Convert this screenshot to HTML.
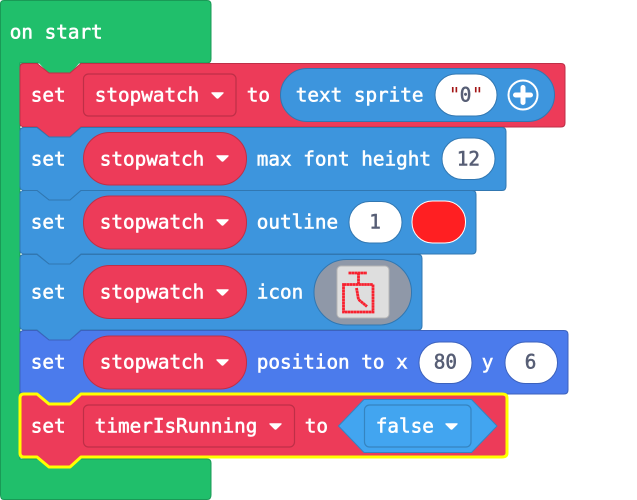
<!DOCTYPE html>
<html><head><meta charset="utf-8"><style>
html,body{margin:0;padding:0;background:#fff;width:637px;height:500px;overflow:hidden}
svg{display:block}
text{font-family:"DejaVu Sans Mono","Liberation Mono",monospace;font-size:19.3px;fill:#fff;dominant-baseline:central;stroke:#fff;stroke-width:.55;transform:translate(-.2px,.2px)}
.d{fill:#575e75;stroke:#575e75}
</style></head><body>
<svg width="637" height="500" viewBox="0 0 637 500" xmlns="http://www.w3.org/2000/svg">
<defs>
<path id="c" d="M1.200 .3H11.800Q13.300 .3 12.400 1.500L7.600 6.300Q6.500 7.300 5.400 6.300L.6 1.500Q-.3 .3 1.200 .3Z" fill="#fff"/>
</defs>
<path d="M4 .5H207Q211 .5 211 4.500V59Q211 63 207 63H20V459H207Q211 459 211 463V495Q211 499.500 207 499.500H4Q.5 499.500 .5 495V4Q.5 .5 4 .5Z" fill="#20bf6b" stroke="#1a9956"/>
<path d="M36 60L49 74H70L82 60Z" fill="#20bf6b"/>

<path d="M24 63.500H37L49 73H70L81 63.500H561Q565 63.500 565 67.500V123Q565 127 561 127H81L70 137H49L37 127H24Q20 127 20 123V67.500Q20 63.500 24 63.500Z" fill="#ed3b59" stroke="#be2f47"/>
<path d="M24 127.500H37L49 137H70L81 127.500H502Q506 127.500 506 131.500V186Q506 190.500 502 190.500H81L70 200H49L37 190.500H24Q20 190.500 20 186V131.500Q20 127.500 24 127.500Z" fill="#3d95dd" stroke="#3177b1"/>
<path d="M24 190.500H37L49 200H70L81 190.500H472Q476 190.500 476 194.500V250Q476 254 472 254H81L70 264H49L37 254H24Q20 254 20 250V194.500Q20 190.500 24 190.500Z" fill="#3d95dd" stroke="#3177b1"/>
<path d="M24 254.500H37L49 264H70L81 254.500H418Q422 254.500 422 258.500V326Q422 330 418 330H81L70 340H49L37 330H24Q20 330 20 326V258.500Q20 254.500 24 254.500Z" fill="#3d95dd" stroke="#3177b1"/>
<path d="M24 330.500H37L49 340H70L81 330.500H564Q568 330.500 568 334.500V390Q568 394 564 394H81L70 404H49L37 394H24Q20 394 20 390V334.500Q20 330.500 24 330.500Z" fill="#4b7bec" stroke="#3c62bd"/>
<path d="M24 394H37L49 404H70L81 394H502Q507 394 507 398V453Q507 457 502 457H81L70 467H49L37 457H24Q20 457 20 453V398Q20 394 24 394Z" fill="#ed3b59" stroke="#ffff00" stroke-width="3" stroke-linejoin="round"/>

<g fill="#fff"><circle cx="21" cy="127" r=".8"/><circle cx="21" cy="190.500" r=".8"/><circle cx="21" cy="254" r=".8"/><circle cx="21" cy="330" r=".8"/></g>

<text x="10" y="32">on start</text>

<!-- row 1 -->
<text x="31" y="95">set</text>
<rect x="83.500" y="74" width="152.500" height="42" rx="5" fill="#ed3b59" stroke="#be2f47" stroke-width="1.200"/>
<text x="95" y="95">stopwatch</text>
<use href="#c" x="211" y="92"/>
<text x="247" y="95">to</text>
<rect x="280.500" y="68.500" width="274" height="53" rx="26.500" fill="#3d95dd" stroke="#3177b1"/>
<text x="296" y="95">text sprite</text>
<rect x="435" y="74" width="62" height="42" rx="21" fill="#fff" stroke="#3177b1"/>
<text x="449" y="95" style="fill:#a31515;stroke:none">"</text>
<text x="460" y="95" class="d">0</text>
<text x="472" y="95" style="fill:#a31515;stroke:none">"</text>
<circle cx="523" cy="95" r="14.500" fill="none" stroke="#fff" stroke-width="2"/>
<path d="M523 87.500V102.500M515.500 95H530.500" stroke="#fff" stroke-width="5" stroke-linecap="round" fill="none"/>

<!-- row 2 -->
<text x="31" y="159">set</text>
<rect x="83.500" y="132.500" width="163" height="52.500" rx="26" fill="#ed3b59" stroke="#be2f47"/>
<text x="100" y="159">stopwatch</text>
<use href="#c" x="216" y="155"/>
<text x="257" y="159">max font height</text>
<rect x="442" y="138" width="53" height="41.500" rx="20.500" fill="#fff" stroke="#3177b1"/>
<text x="457" y="159" class="d">12</text>

<!-- row 3 -->
<text x="31" y="222">set</text>
<rect x="83.500" y="196" width="163" height="53" rx="26" fill="#ed3b59" stroke="#be2f47"/>
<text x="100" y="222">stopwatch</text>
<use href="#c" x="216" y="219"/>
<text x="257" y="222">outline</text>
<rect x="349" y="201.500" width="53" height="41.500" rx="20.500" fill="#fff" stroke="#3177b1"/>
<text x="369.500" y="222" class="d">1</text>
<rect x="412" y="201" width="53.500" height="42" rx="20.500" fill="#ff1f22" stroke="#fff"/>

<!-- row 4 -->
<text x="31" y="292">set</text>
<rect x="83.500" y="265.500" width="163" height="53" rx="26" fill="#ed3b59" stroke="#be2f47"/>
<text x="100" y="292">stopwatch</text>
<use href="#c" x="216" y="289"/>
<text x="257" y="292">icon</text>
<rect x="314" y="259.500" width="97.500" height="65.500" rx="32.500" fill="#8f98a8" stroke="#3177b1"/>
<rect x="337" y="266" width="52" height="52" rx="4" fill="#dedede" stroke="#b5b5b5"/>
<path d="M348.500 273H367M358.500 273V284M343.500 284.500H373V312H343.500ZM356.500 288L358.500 299.500L367 306.500" fill="none" stroke="#f8202e" stroke-width="2.800" stroke-dasharray="2.700 .25"/>

<!-- row 5 -->
<text x="31" y="362">set</text>
<rect x="83.500" y="336" width="163" height="53" rx="26" fill="#ed3b59" stroke="#be2f47"/>
<text x="100" y="362">stopwatch</text>
<use href="#c" x="216" y="359"/>
<text x="257" y="362">position to x</text>
<rect x="419" y="342" width="53" height="41.500" rx="20.500" fill="#fff" stroke="#3c62bd"/>
<text x="434" y="362" class="d">80</text>
<text x="482" y="362">y</text>
<rect x="505" y="342" width="52.500" height="41.500" rx="20.500" fill="#fff" stroke="#3c62bd"/>
<text x="525" y="362" class="d">6</text>

<!-- row 6 -->
<text x="31" y="426">set</text>
<rect x="83.500" y="405" width="211" height="42" rx="5" fill="#ed3b59" stroke="#be2f47" stroke-width="1.200"/>
<text x="95" y="426">timerIsRunning</text>
<use href="#c" x="269" y="423"/>
<text x="305" y="426">to</text>
<path d="M338.500 426L364 399.500H471.500L497 426L471.500 452.500H364Z" fill="#42a5f0" stroke="#3584c0"/>
<rect x="364.500" y="405" width="106.500" height="42" rx="5" fill="#42a5f0" stroke="#3584c0" stroke-width="1.200"/>
<text x="376" y="426">false</text>
<use href="#c" x="445" y="423"/>
</svg>
</body></html>
